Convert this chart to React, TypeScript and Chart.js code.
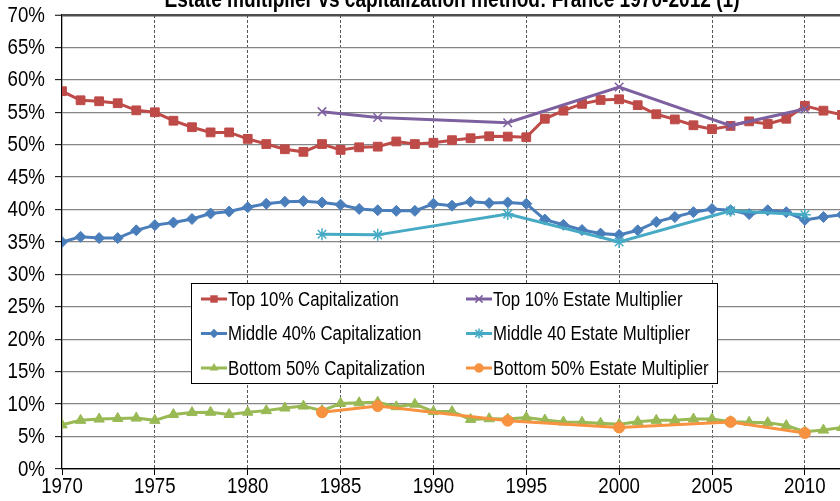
import React, { useEffect, useRef } from 'react';
import { Chart, registerables } from 'chart.js';

Chart.register(...registerables);

const TITLE = 'Estate multiplier vs capitalization method: France 1970-2012 (1)';

const years = [
  1970, 1971, 1972, 1973, 1974, 1975, 1976, 1977, 1978, 1979,
  1980, 1981, 1982, 1983, 1984, 1985, 1986, 1987, 1988, 1989,
  1990, 1991, 1992, 1993, 1994, 1995, 1996, 1997, 1998, 1999,
  2000, 2001, 2002, 2003, 2004, 2005, 2006, 2007, 2008, 2009,
  2010, 2011, 2012,
];

const top10Cap = [
  58.25, 56.85, 56.7, 56.4, 55.3, 55.0, 53.7, 52.7, 51.9, 51.9,
  50.9, 50.1, 49.3, 48.9, 50.1, 49.2, 49.6, 49.7, 50.5, 50.1,
  50.3, 50.7, 51.0, 51.3, 51.25, 51.15, 54.0, 55.25, 56.3, 56.9,
  57.0, 56.1, 54.7, 53.9, 53.0, 52.4, 52.9, 53.6, 53.2, 54.0,
  56.0, 55.25, 54.6,
];

const mid40Cap = [
  35.0, 35.8, 35.6, 35.6, 36.8, 37.6, 38.0, 38.55, 39.4, 39.7,
  40.35, 40.9, 41.2, 41.3, 41.1, 40.75, 40.1, 39.9, 39.8, 39.8,
  40.9, 40.6, 41.2, 41.0, 41.1, 40.9, 38.45, 37.65, 36.85, 36.3,
  36.1, 36.8, 38.1, 38.85, 39.6, 40.1, 39.9, 39.3, 39.9, 39.6,
  38.4, 38.85, 39.2,
];

const bot50Cap = [
  6.8, 7.5, 7.7, 7.8, 7.85, 7.5, 8.4, 8.7, 8.75, 8.4,
  8.75, 9.0, 9.4, 9.7, 9.0, 10.1, 10.2, 10.3, 9.6, 10.0,
  8.85, 8.85, 7.65, 7.75, 7.7, 7.95, 7.55, 7.25, 7.2, 7.05,
  6.9, 7.3, 7.5, 7.5, 7.7, 7.7, 7.3, 7.2, 7.15, 6.7,
  5.75, 6.0, 6.4,
];

const estateYears = [1984, 1987, 1994, 2000, 2006, 2010];
const top10Estate = [55.1, 54.2, 53.4, 58.9, 52.95, 55.5];
const mid40Estate = [36.2, 36.1, 39.3, 35.0, 39.8, 39.2];
const bot50Estate = [8.75, 9.7, 7.45, 6.4, 7.25, 5.55];

const xTickValues = [1970, 1975, 1980, 1985, 1990, 1995, 2000, 2005, 2010];
const yTickValues = [0, 5, 10, 15, 20, 25, 30, 35, 40, 45, 50, 55, 60, 65, 70];

const RED = '#BE4B48';
const BLUE = '#4A7EBB';
const GREEN = '#98B954';
const PURPLE = '#7D60A0';
const TEAL = '#46AAC5';
const ORANGE = '#F69240';

const FAM = '"Liberation Sans", Arial, sans-serif';

function drawMarker(ctx: CanvasRenderingContext2D, style: string, x: number, y: number, r: number, color: string) {
  ctx.save();
  ctx.fillStyle = color;
  ctx.strokeStyle = color;
  ctx.lineWidth = 1.5;
  ctx.beginPath();
  if (style === 'rect') {
    const s = r * Math.SQRT1_2;
    ctx.rect(x - s, y - s, 2 * s, 2 * s);
    ctx.fill();
  } else if (style === 'rectRot') {
    ctx.moveTo(x, y - r); ctx.lineTo(x + r, y); ctx.lineTo(x, y + r); ctx.lineTo(x - r, y); ctx.closePath();
    ctx.fill();
  } else if (style === 'triangle') {
    ctx.moveTo(x, y - r);
    ctx.lineTo(x + r * Math.cos(Math.PI / 6), y + r / 2);
    ctx.lineTo(x - r * Math.cos(Math.PI / 6), y + r / 2);
    ctx.closePath();
    ctx.fill();
  } else if (style === 'circle') {
    ctx.arc(x, y, r, 0, Math.PI * 2);
    ctx.fill();
  } else if (style === 'crossRot') {
    const d = r * Math.SQRT1_2;
    ctx.moveTo(x - d, y - d); ctx.lineTo(x + d, y + d);
    ctx.moveTo(x - d, y + d); ctx.lineTo(x + d, y - d);
    ctx.stroke();
  } else if (style === 'star') {
    const d = r * Math.SQRT1_2;
    ctx.moveTo(x - d, y - d); ctx.lineTo(x + d, y + d);
    ctx.moveTo(x - d, y + d); ctx.lineTo(x + d, y - d);
    ctx.moveTo(x, y - r); ctx.lineTo(x, y + r);
    ctx.stroke();
  }
  ctx.restore();
}

function narrowText(ctx: CanvasRenderingContext2D, text: string, x: number, y: number, align: CanvasTextAlign, baseline: CanvasTextBaseline, sx: number) {
  ctx.save();
  ctx.translate(x, y);
  ctx.scale(sx, 1);
  ctx.textAlign = align;
  ctx.textBaseline = baseline;
  ctx.fillText(text, 0, 0);
  ctx.restore();
}

export default function App() {
  const ref = useRef<HTMLCanvasElement | null>(null);

  useEffect(() => {
    const canvas = ref.current;
    if (!canvas) return;
    const tickSize = 22;
    const tickSX = 0.85;
    const legendSize = 20;
    const legendSX = 0.84;
    const titleSize = 23;
    const titleSX = 0.83;

    const series = [
      { label: 'Top 10% Capitalization', xs: years, ys: top10Cap, color: RED, style: 'rect', r: 6.2, order: 2 },
      { label: 'Middle 40% Capitalization', xs: years, ys: mid40Cap, color: BLUE, style: 'rectRot', r: 5.5, order: 2 },
      { label: 'Bottom 50% Capitalization', xs: years, ys: bot50Cap, color: GREEN, style: 'triangle', r: 6, order: 2 },
      { label: 'Top 10% Estate Multiplier', xs: estateYears, ys: top10Estate, color: PURPLE, style: 'crossRot', r: 6, order: 1 },
      { label: 'Middle 40 Estate Multiplier', xs: estateYears, ys: mid40Estate, color: TEAL, style: 'star', r: 6, order: 1 },
      { label: 'Bottom 50% Estate Multiplier', xs: estateYears, ys: bot50Estate, color: ORANGE, style: 'circle', r: 5.5, order: 1 },
    ];

    const overlay = {
      id: 'overlay',
      afterDraw(chart: any) {
        const ctx: CanvasRenderingContext2D = chart.ctx;
        const xs = chart.scales.x;
        const ys = chart.scales.y;
        ctx.save();
        ctx.fillStyle = '#000';

        // title (cut off by the top edge, as in the source picture)
        ctx.font = `bold ${titleSize}px ${FAM}`;
        narrowText(ctx, TITLE, 452, 7, 'center', 'alphabetic', titleSX);

        // tick labels
        ctx.font = `${tickSize}px ${FAM}`;
        xTickValues.forEach((v) => {
          narrowText(ctx, String(v), xs.getPixelForValue(v), 487, 'center', 'middle', tickSX);
        });
        yTickValues.forEach((v) => {
          narrowText(ctx, `${v}%`, 45, ys.getPixelForValue(v) + 0.5, 'right', 'middle', tickSX);
        });

        // legend
        const bx = 191.5, by = 283.5, bw = 526, bh = 100;
        ctx.fillStyle = '#fff';
        ctx.fillRect(bx, by, bw, bh);
        ctx.strokeStyle = '#000';
        ctx.lineWidth = 1;
        ctx.strokeRect(bx, by, bw, bh);

        const cols = [201, 466];
        const rows = [299, 333.5, 368];
        ctx.font = `${legendSize}px ${FAM}`;
        series.forEach((s, i) => {
          const col = i < 3 ? 0 : 1;
          const row = i % 3;
          const lx = cols[col];
          const ly = rows[row];
          ctx.strokeStyle = s.color;
          ctx.lineWidth = 3;
          ctx.beginPath();
          ctx.moveTo(lx, ly);
          ctx.lineTo(lx + 26, ly);
          ctx.stroke();
          drawMarker(ctx, s.style, lx + 13, ly, s.r * 0.85, s.color);
          ctx.fillStyle = '#000';
          narrowText(ctx, s.label, lx + 27, ly + 1, 'left', 'middle', legendSX);
        });
        ctx.restore();
      },
    };

    const chart = new Chart(canvas, {
      type: 'line',
      data: {
        datasets: series.map((s) => ({
          label: s.label,
          data: s.xs.map((x, i) => ({ x, y: s.ys[i] })),
          borderColor: s.color,
          backgroundColor: s.color,
          borderWidth: 3,
          tension: 0,
          fill: false,
          pointStyle: s.style as any,
          pointRadius: s.r,
          pointBackgroundColor: s.color,
          pointBorderColor: s.color,
          pointBorderWidth: s.style === 'crossRot' || s.style === 'star' ? 1.5 : 1,
          order: s.order,
        })),
      },
      options: {
        responsive: false,
        animation: false,
        events: [],
        layout: { padding: { left: 0, right: 58, top: 15, bottom: 0 } },
        plugins: {
          legend: { display: false },
          title: { display: false },
          tooltip: { enabled: false },
        },
        scales: {
          x: {
            type: 'linear',
            min: 1970,
            max: 2012,
            afterBuildTicks: (scale: any) => {
              scale.ticks = xTickValues.map((v) => ({ value: v }));
            },
            afterFit: (scale: any) => {
              scale.height = 32;
            },
            ticks: { display: false },
            grid: {
              color: (c: any) => (c.tick && c.tick.value === 1970 ? 'rgba(0,0,0,0)' : '#555'),
              lineWidth: 1,
              tickLength: 6,
              tickColor: '#000',
              tickWidth: 1,
              tickBorderDash: [],
            },
            border: { display: true, color: '#000', width: 1.3, dash: [3, 2] },
          },
          y: {
            type: 'linear',
            min: 0,
            max: 70,
            afterBuildTicks: (scale: any) => {
              scale.ticks = yTickValues.map((v) => ({ value: v }));
            },
            afterFit: (scale: any) => {
              scale.width = 62;
            },
            ticks: { display: false },
            grid: {
              color: (c: any) => {
                const v = c.tick ? c.tick.value : -1;
                if (v === 70) return '#4d4d4d';
                if (v === 0) return '#000';
                return '#858585';
              },
              lineWidth: (c: any) => {
                const v = c.tick ? c.tick.value : -1;
                if (v === 70) return 2.5;
                return 1.3;
              },
              tickLength: 7,
              tickColor: '#000',
              tickWidth: 1,
            },
            border: { display: true, color: '#000', width: 1.3 },
          },
        },
      },
      plugins: [overlay],
    } as any);

    return () => chart.destroy();
  }, []);

  return (
    <div style={{ position: 'fixed', left: 0, top: 0, width: 840, height: 501, overflow: 'hidden', background: '#fff' }}>
      <canvas ref={ref} width={900} height={501} style={{ width: '900px', height: '501px', display: 'block' }} />
    </div>
  );
}
